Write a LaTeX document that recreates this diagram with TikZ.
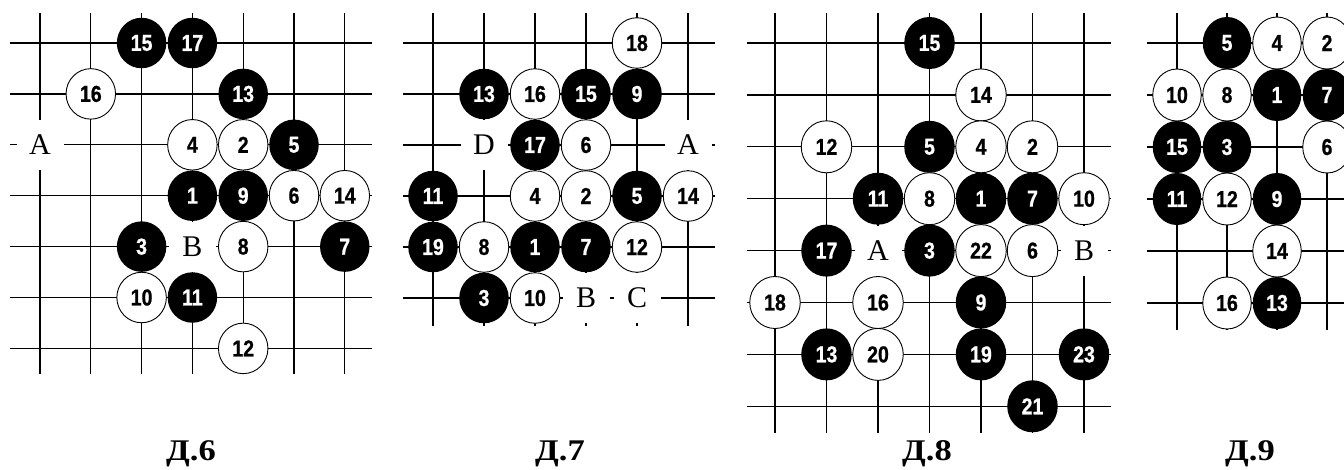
\documentclass[tikz,border=0pt]{standalone}
\usepackage{fontspec}
\usetikzlibrary{shapes.geometric}
\newfontfamily\stonefont[FakeStretch=0.85,BoldFeatures={FakeBold=0.8}]{Liberation Sans}
\newfontfamily\labserif{Liberation Serif}
\newfontfamily\capserif[FakeStretch=1.15]{Liberation Serif}
\def\stw{49.5pt}\def\sth{50.5pt}
\tikzset{
  gridline/.style={line width=1.2pt, black},
  stone/.style={ellipse, minimum width=\stw, minimum height=\sth, inner sep=0pt,
    font=\stonefont\bfseries\fontsize{23}{23}\selectfont},
  bs/.style={stone, fill=black, text=white},
  ws/.style={stone, fill=white, draw=black, line width=0.9pt, text=black},
  lab/.style={rectangle, fill=white, minimum width=47pt, minimum height=50pt, inner sep=0pt,
    font=\labserif\fontsize{30}{30}\selectfont},
  capt/.style={anchor=base, inner sep=0pt, font=\capserif\bfseries\fontsize{30}{30}\selectfont}
}
\begin{document}
\begin{tikzpicture}[x=1pt, y=-1pt]
\clip (0,0) rectangle (1344,469);
\fill[white] (0,0) rectangle (1344,469);
% ---------------- D.6
\def\stw{49.5pt}\def\sth{50.5pt}
\begin{scope}[shift={(40pt,-43pt)}, x=50.8pt, y=-50.9pt]
  \foreach \r in {0,...,6} \draw[gridline] (-0.59,\r) -- (6.53,\r);
  \foreach \c in {0,...,6} \draw[gridline] (\c,-0.59) -- (\c,6.5);
  \node[lab] (d6A) at (0,2) {A};
  \node[lab] (d6B) at (3,4) {B};
  \foreach \c/\r/\n in {2/0/15, 3/0/17, 4/1/13, 5/2/5, 3/3/1, 4/3/9, 2/4/3, 6/4/7, 3/5/11}
    \node[bs] (d6s\n) at (\c,\r) {\n};
  \foreach \c/\r/\n in {1/1/16, 3/2/4, 4/2/2, 5/3/6, 6/3/14, 4/4/8, 2/5/10, 4/6/12}
    \node[ws] (d6s\n) at (\c,\r) {\n};
\end{scope}
% ---------------- D.7
\def\stw{49.5pt}\def\sth{50.5pt}
\begin{scope}[shift={(433pt,-43pt)}, x=51pt, y=-51pt]
  \foreach \r in {0,...,5} \draw[gridline] (-0.59,\r) -- (5.53,\r);
  \foreach \c in {0,...,5} \draw[gridline] (\c,-0.59) -- (\c,5.55);
  \node[lab] (d7D) at (1,2) {D};
  \node[lab] (d7A) at (5,2) {A};
  \node[lab] (d7B) at (3,5) {B};
  \node[lab] (d7C) at (4,5) {C};
  \foreach \c/\r/\n in {1/1/13, 3/1/15, 4/1/9, 2/2/17, 0/3/11, 4/3/5, 0/4/19, 2/4/1, 3/4/7, 1/5/3}
    \node[bs] (d7s\n) at (\c,\r) {\n};
  \foreach \c/\r/\n in {4/0/18, 2/1/16, 3/2/6, 2/3/4, 3/3/2, 5/3/14, 1/4/8, 4/4/12, 2/5/10}
    \node[ws] (d7s\n) at (\c,\r) {\n};
\end{scope}
% ---------------- D.8
\def\stw{50.5pt}\def\sth{52pt}
\begin{scope}[shift={(775pt,-43pt)}, x=51.5pt, y=-51.9pt]
  \foreach \r in {0,...,7} \draw[gridline] (-0.54,\r) -- (6.52,\r);
  \foreach \c in {0,...,6} \draw[gridline] (\c,-0.58) -- (\c,7.51);
  \node[lab] (d8A) at (2,4) {A};
  \node[lab] (d8B) at (6,4) {B};
  \foreach \c/\r/\n in {3/0/15, 3/2/5, 2/3/11, 4/3/1, 5/3/7, 1/4/17, 3/4/3, 4/5/9, 1/6/13, 4/6/19, 6/6/23, 5/7/21}
    \node[bs] (d8s\n) at (\c,\r) {\n};
  \foreach \c/\r/\n in {4/1/14, 1/2/12, 4/2/4, 5/2/2, 3/3/8, 6/3/10, 4/4/22, 5/4/6, 0/5/18, 2/5/16, 2/6/20}
    \node[ws] (d8s\n) at (\c,\r) {\n};
\end{scope}
% ---------------- D.9
\def\stw{48.5pt}\def\sth{52pt}
\begin{scope}[shift={(1177pt,-43pt)}, x=50pt, y=-52pt]
  \foreach \r in {0,...,5} \draw[gridline] (-0.6,\r) -- (3.6,\r);
  \foreach \c in {0,...,3} \draw[gridline] (\c,-0.58) -- (\c,5.52);
  \foreach \c/\r/\n in {1/0/5, 2/1/1, 3/1/7, 0/2/15, 1/2/3, 0/3/11, 2/3/9, 2/5/13}
    \node[bs] (d9s\n) at (\c,\r) {\n};
  \foreach \c/\r/\n in {2/0/4, 3/0/2, 0/1/10, 1/1/8, 3/2/6, 1/3/12, 2/4/14, 1/5/16}
    \node[ws] (d9s\n) at (\c,\r) {\n};
\end{scope}
% ---------------- captions
\node[capt] (cap6) at (191,460) {Д.6};
\node[capt] (cap7) at (560,460) {Д.7};
\node[capt] (cap8) at (927,460) {Д.8};
\node[capt] (cap9) at (1250,460) {Д.9};
\end{tikzpicture}
\end{document}
